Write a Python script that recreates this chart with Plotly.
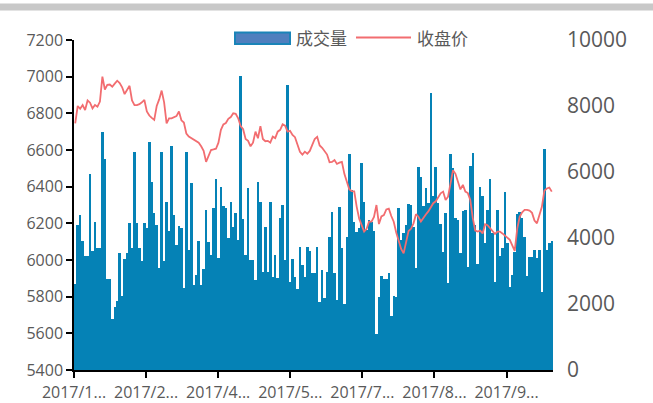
import plotly.graph_objects as go

# ---- data ----
tick_labels = ["2017/1...", "2017/2...", "2017/4...", "2017/5...", "2017/7...", "2017/8...", "2017/9..."]

volume = [
    2600, 4400, 4700, 3900, 3450, 3450, 5950, 3600, 4500, 3700,
    3700, 7200, 6400, 2750, 2750, 1550, 1900, 2100, 3550, 2250,
    3350, 3550, 4450, 3700, 6600, 4450, 3700, 3300, 4450, 4290,
    6900, 5700, 4750, 4400, 3100, 6600, 3300, 5100, 4200, 6800,
    4700, 3800, 4350, 4300, 2500, 6600,
    3640, 5660, 2580, 2880, 3910, 2580, 3050, 4850, 3890, 3500,
    4900, 5780, 3380, 5560, 4980, 4900, 3990, 5100, 4340, 4770,
    3940, 8910, 4580, 3480, 5530, 3330, 3330, 2730, 5690, 5100,
    2980, 4340, 2980, 5080, 2810, 3500, 2800, 4600, 5000, 3330,
    8640, 2680, 3350, 2810, 2440, 3740, 3180, 2810, 3720, 3620,
    2930, 2930, 3720, 2070, 3030, 2170, 2980, 4040, 4800, 2930,
    2120, 4930, 3690, 2000, 4040, 6540, 5450, 4500, 4190, 4290,
    6260, 5080, 4240, 4550, 4500, 4220, 1090, 2220, 2850, 2750,
    2750, 2930, 1640, 2240, 2200, 4900, 3940, 4140, 4390, 5020,
    5000, 4340, 3080, 6140, 5860, 4980, 5510, 5050,
    8380, 5270, 6140, 5050, 4420, 3590, 4750, 2650, 6550, 6110,
    4600, 4550, 3540, 4830, 4850, 3130, 6180, 6590, 4390, 3210,
    5540, 5270, 3840, 4850, 5780, 4140, 2680, 4850, 3450, 3690,
    5400, 3860, 2510, 2880, 3590, 4730, 4780, 4600, 4040, 2850,
    3430, 3410, 3640, 3380, 3640, 2370, 6690, 3640, 3840, 3920,
]

close_price = [
    6745, 6840, 6825, 6845, 6818, 6870, 6858, 6827, 6845, 6836,
    6864, 7000, 6930, 6955, 6957, 6945, 6962, 6978, 6965, 6942,
    6905, 6930, 6950, 6870, 6845, 6845, 6850, 6860, 6873, 6810,
    6788, 6775, 6764, 6840, 6876, 6924, 6860, 6745, 6773, 6773,
    6778, 6785, 6810, 6762, 6750, 6690,
    6673, 6664, 6655, 6645, 6640, 6620, 6595, 6535, 6570, 6600,
    6603, 6607, 6640, 6710, 6740, 6747, 6770, 6780, 6800, 6798,
    6773, 6730, 6713, 6660, 6650, 6620, 6640, 6700, 6664, 6730,
    6660, 6648, 6650, 6640, 6673, 6665, 6700, 6710, 6740, 6733,
    6700, 6705, 6682, 6670, 6630, 6590, 6575, 6591, 6580, 6595,
    6628, 6660, 6672, 6625, 6612, 6595, 6575, 6533, 6535, 6545,
    6524, 6531, 6535, 6470, 6420, 6385, 6376, 6375, 6290, 6225,
    6190, 6155, 6170, 6209, 6209, 6235, 6300, 6196, 6238, 6245,
    6276, 6280, 6240, 6209, 6150, 6109, 6060, 6036, 6100, 6158,
    6170, 6200, 6250, 6236, 6210, 6233, 6248, 6265,
    6290, 6310, 6320, 6345, 6364, 6373, 6327, 6345, 6420, 6490,
    6470, 6430, 6385, 6410, 6373, 6365, 6327, 6230, 6160, 6155,
    6160, 6145, 6195, 6190, 6175, 6158, 6142, 6155, 6155, 6145,
    6134, 6125, 6110, 6080, 6050, 6170, 6236, 6260, 6273, 6273,
    6269, 6257, 6215, 6200, 6245, 6290, 6378, 6390, 6395, 6373,
]

# ---- figure ----
n = len(volume)
x = list(range(n))
tick_step = 29.2
tickvals = [-0.5 + k * tick_step for k in range(len(tick_labels))]

BAR_COLOR = "#0582B6"
LINE_COLOR = "#F26D70"
TEXT_COLOR = "#595959"
FONT = "Open Sans"

fig = go.Figure()
fig.add_trace(go.Bar(x=x, y=volume, name="成交量", marker=dict(color=BAR_COLOR, line=dict(width=0)),
                     yaxis="y", showlegend=False))
fig.add_trace(go.Scatter(x=x, y=close_price, name="收盘价", mode="lines",
                         line=dict(color=LINE_COLOR, width=1.8), yaxis="y2", showlegend=False))

W, H = 653, 403
L, R, T, B = 74, 100, 40, 33
pw, ph = W - L - R, H - T - B


def px(xp):
    return (xp - L) / pw


def py(yp):
    return (H - B - yp) / ph


fig.update_layout(
    width=W, height=H,
    margin=dict(l=L, r=R, t=T, b=B, autoexpand=False),
    paper_bgcolor="white", plot_bgcolor="white",
    bargap=0,
    font=dict(family=FONT, color=TEXT_COLOR),
    xaxis=dict(
        range=[-0.5, n - 0.5], tickvals=tickvals, ticktext=tick_labels,
        showline=True, linecolor="black", linewidth=1.5,
        ticks="outside", ticklen=6, tickwidth=1.5, tickcolor="black",
        ticklabelstandoff=1,
        showgrid=False, zeroline=False, tickfont=dict(size=16, color=TEXT_COLOR),
        automargin=False,
    ),
    yaxis=dict(
        side="right", range=[0, 10000], dtick=2000, tickformat="d",
        showgrid=False, zeroline=False,
        showline=False, ticks="", ticklabelstandoff=13,
        tickfont=dict(size=21, color=TEXT_COLOR), automargin=False,
    ),
    yaxis2=dict(
        overlaying="y", side="left", range=[5400, 7200], dtick=200,
        showgrid=False, zeroline=False,
        showline=True, linecolor="black", linewidth=1.5,
        ticks="outside", ticklen=6, tickwidth=1.5, tickcolor="black",
        tickfont=dict(size=16, color=TEXT_COLOR), automargin=False,
    ),
)

# top gray band
fig.add_shape(type="rect", xref="paper", yref="paper",
              x0=px(-5), x1=px(W + 5), y0=py(10.5), y1=py(3.5),
              fillcolor="#C8C8C8", line=dict(width=0), layer="above")

# custom legend
fig.add_shape(type="rect", xref="paper", yref="paper",
              x0=px(235), x1=px(290), y0=py(44), y1=py(32.5),
              fillcolor="#4F7FBE", line=dict(color="#1A84B8", width=2), layer="above")
fig.add_annotation(xref="paper", yref="paper", x=px(294), y=py(38), xanchor="left", yanchor="middle",
                   text="成交量", showarrow=False,
                   font=dict(family="Noto Sans CJK SC", size=17, color=TEXT_COLOR))
fig.add_shape(type="line", xref="paper", yref="paper",
              x0=px(356), x1=px(411), y0=py(37.5), y1=py(37.5),
              line=dict(color=LINE_COLOR, width=2), layer="above")
fig.add_annotation(xref="paper", yref="paper", x=px(415), y=py(38), xanchor="left", yanchor="middle",
                   text="收盘价", showarrow=False,
                   font=dict(family="Noto Sans CJK SC", size=17, color=TEXT_COLOR))

fig.write_html("out.html", config={"displayModeBar": False},
               post_script="document.body.style.margin='0';document.body.style.overflow='hidden';")
